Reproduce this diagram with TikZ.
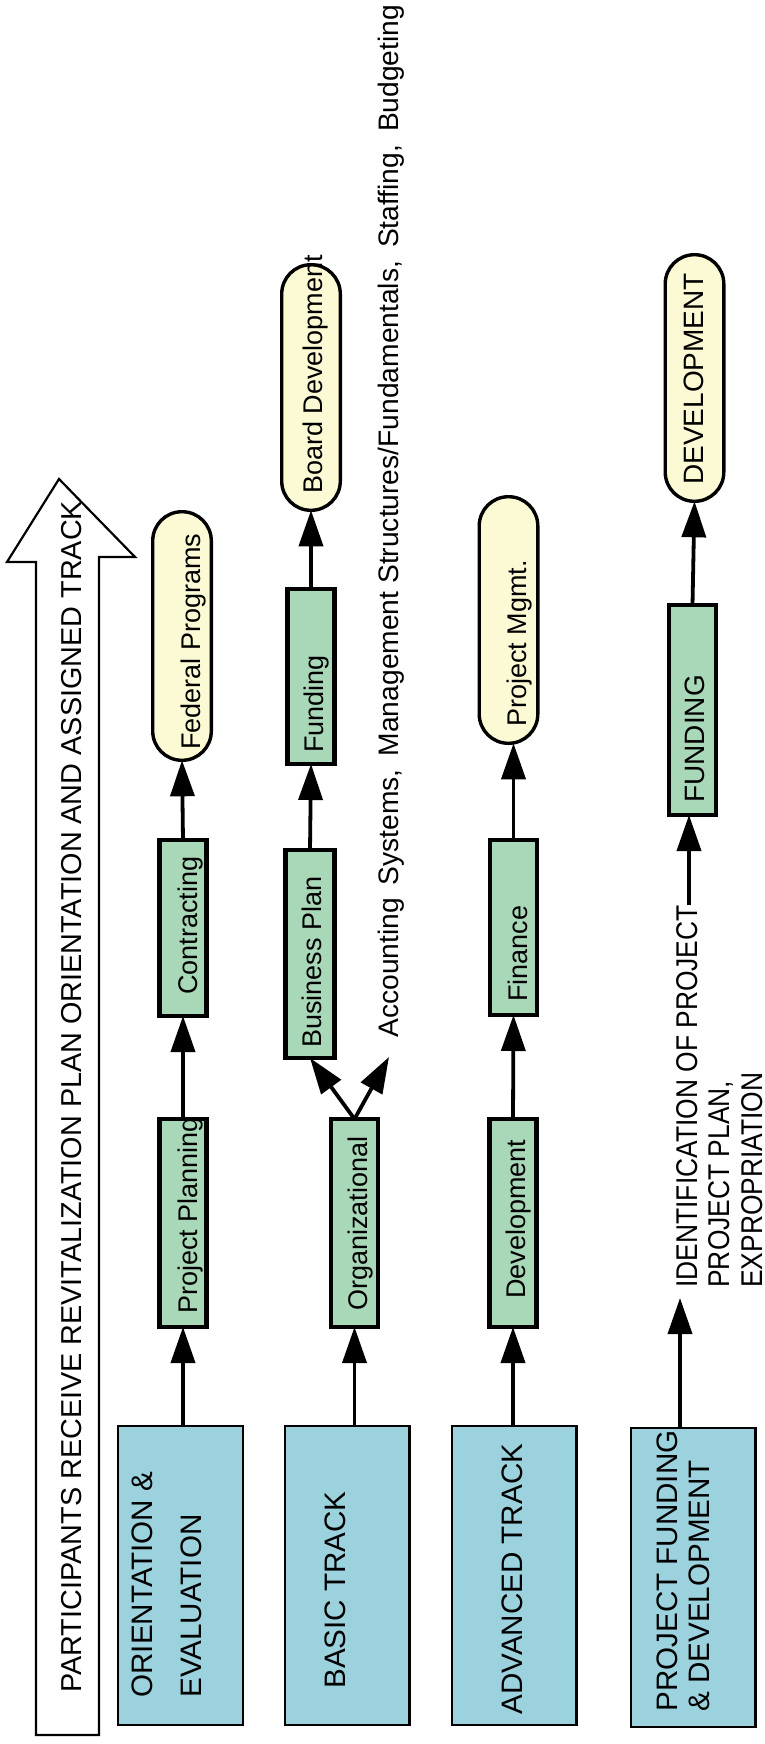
\documentclass[tikz,border=0pt]{standalone}
\usepackage{fontspec}
\setmainfont{Liberation Sans}
\usetikzlibrary{arrows.meta}
\definecolor{bluefill}{HTML}{9BD2DD}
\definecolor{greenfill}{HTML}{A8D8B8}
\definecolor{capfill}{HTML}{FCFAD4}
\begin{document}
\begin{tikzpicture}[x=0.5pt,y=-0.5pt,
  bluebox/.style={draw, line width=1.2pt, fill=bluefill, minimum width=62.3pt, minimum height=149.3pt, inner sep=0pt, outer sep=0pt},
  greenbox/.style={draw, line width=2.1pt, fill=greenfill, minimum width=23.5pt, inner sep=0pt, outer sep=0pt},
  capsule/.style={draw, line width=1.7pt, fill=capfill, rounded corners=14.6pt, minimum width=29.3pt, inner sep=0pt, outer sep=0pt},
  lbl/.style={rotate=90, inner sep=0pt, anchor=base west, font=\fontsize{13.5}{16}\selectfont},
  biglbl/.style={rotate=90, inner sep=0pt, font=\fontsize{14.8}{16}\selectfont},
  conn/.style={line width=1.9pt, -{Triangle[length=18pt,width=12pt]}}
]
\useasboundingbox (0,0) rectangle (765,1744);
\fill[white] (0,0) rectangle (765,1744);

% big arrow
\draw[line width=1.1pt, fill=white] (36,1735) -- (36,562) -- (7,562) -- (59,479) -- (135,557) -- (99,557) -- (99,1735) -- cycle;
\node[biglbl, anchor=base west, font=\fontsize{14.4}{16}\selectfont] (title) at (81,1693) {PARTICIPANTS RECEIVE REVITALIZATION PLAN ORIENTATION AND ASSIGNED TRACK};

% blue track boxes
\node[bluebox] (b1) at (180.5,1575.5) {};
\node[bluebox] (b2) at (347,1575.5) {};
\node[bluebox] (b3) at (514,1575.5) {};
\node[bluebox] (b4) at (693,1577.5) {};
\node[biglbl, anchor=north west, align=left, font=\fontsize{14.8}{24.5}\selectfont] (t1) at (131,1698) {ORIENTATION \&\\EVALUATION};
\node[biglbl, anchor=base west] (t2) at (345,1689) {BASIC TRACK};
\node[biglbl, anchor=base west] (t3) at (522,1715) {ADVANCED TRACK};
\node[biglbl, anchor=north west, align=left, font=\fontsize{14.8}{16}\selectfont] (t4) at (656,1712) {PROJECT FUNDING\\\& DEVELOPMENT};

% green boxes
\node[greenbox, minimum height=104pt] (gpp) at (183,1223) {};
\node[greenbox, minimum height=88pt] (gcon) at (183,928) {};
\node[greenbox, minimum height=104pt] (gorg) at (354.5,1223) {};
\node[greenbox, minimum height=104pt, minimum width=24.5pt] (gbp) at (310,954) {};
\node[greenbox, minimum height=87.5pt] (gfund) at (311,676.5) {};
\node[greenbox, minimum height=104pt] (gdev) at (513,1223) {};
\node[greenbox, minimum height=87.5pt] (gfin) at (513.5,927.5) {};
\node[greenbox, minimum height=105pt] (gFUND) at (692.5,710) {};

% capsules
\node[capsule, minimum height=124.3pt] (cfed) at (182,636) {};
\node[capsule, minimum height=122.8pt] (cboard) at (311,387.5) {};
\node[capsule, minimum height=123.3pt] (cpm) at (508.5,620) {};
\node[capsule, minimum height=123.3pt] (cDEV) at (694.5,378) {};

% labels
\node[lbl] (lfed) at (200,750) {Federal Programs};
\node[lbl] (lboard) at (322,494) {Board Development};
\node[lbl] (lpm) at (526,727) {Project Mgmt.};
\node[lbl, font=\fontsize{14}{16}\selectfont] (lDEV) at (703,485) {DEVELOPMENT};
\node[lbl] (lpp) at (197,1314) {Project Planning};
\node[lbl] (lcon) at (197,995) {Contracting};
\node[lbl] (lorg) at (367,1311) {Organizational};
\node[lbl] (lbp) at (321,1048) {Business Plan};
\node[lbl] (lfund) at (323,753) {Funding};
\node[lbl] (ldev) at (525,1299) {Development};
\node[lbl] (lfin) at (527,1002) {Finance};
\node[lbl, font=\fontsize{14}{16}\selectfont] (lFUND) at (704,803) {FUNDING};
\node[lbl, font=\fontsize{14.1}{16}\selectfont] (lacc) at (398,1038) {Accounting\hspace{6.5pt}Systems,\hspace{6.5pt}Management Structures/Fundamentals,\hspace{6.5pt}Staffing,\hspace{6.5pt}Budgeting};
\node[rotate=90, inner sep=0pt, anchor=north west] (lid) at (674,1288)
  {\fontsize{15}{16.25}\selectfont\scalebox{0.88}[1]{\begin{tabular}{@{}l@{}}IDENTIFICATION OF PROJECT\\PROJECT PLAN,\\EXPROPRIATION\end{tabular}}};

% connectors
\coordinate (accend) at (389,1057);
\coordinate (idstart) at (680,1298);
\coordinate (idend) at (689,905);
\draw[conn] (gpp.south |- b1.north) -- (gpp.south);
\draw[conn] (gpp.north) -- (gcon.south);
\draw[conn] (gcon.north) -- (cfed.south);
\draw[conn] (gorg.south |- b2.north) -- (gorg.south);
\draw[conn] (gorg.north) -- (gbp.south);
\draw[conn] (gorg.north) -- (accend);
\draw[conn] (gbp.north) -- (gfund.south);
\draw[conn] (gfund.north) -- (cboard.south);
\draw[conn] (gdev.south |- b3.north) -- (gdev.south);
\draw[conn] (gdev.north) -- (gfin.south);
\draw[conn] (gfin.north) -- (gfin.north |- cpm.south);
\draw[conn] (idstart |- b4.north) -- (idstart);
\draw[conn] (idend) -- (idend |- gFUND.south);
\draw[conn] (gFUND.north) -- (cDEV.south);
\end{tikzpicture}
\end{document}
